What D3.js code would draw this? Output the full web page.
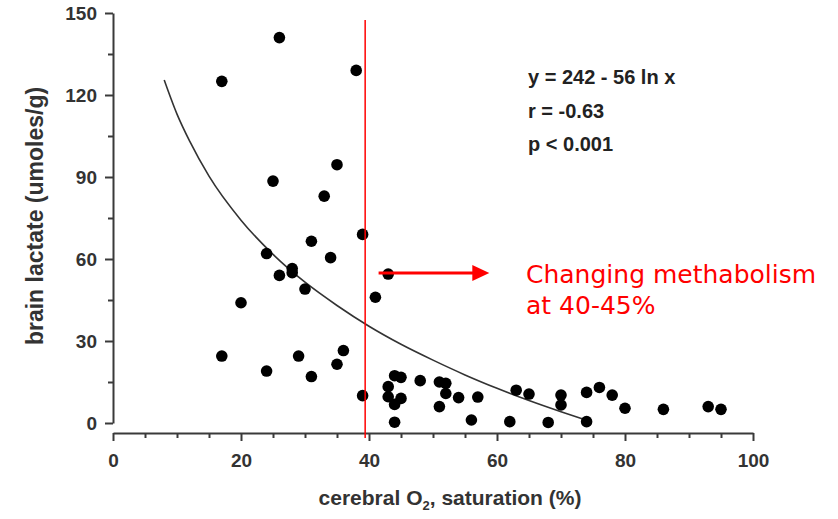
<!doctype html>
<html>
<head>
  <meta charset="utf-8">
  <script src="https://cdnjs.cloudflare.com/ajax/libs/d3/7.8.5/d3.min.js"></script>
  <style>
    body { margin: 0; background: white; }
    .axis path, .axis line { stroke: #3a3a3a; stroke-width: 2px; }
    .axis text { font-family: 'Liberation Sans', Arial, sans-serif; font-weight: bold; font-size: 19px; fill: #333; }
    .title { font-family: 'Liberation Sans', Arial, sans-serif; font-weight: bold; fill: #333; }
    .stats { font-family: 'Liberation Sans', Arial, sans-serif; font-weight: bold; font-size: 20px; fill: #222; }
    .note { font-family: 'DejaVu Sans', sans-serif; font-size: 25px; fill: #ff0000; }
  </style>
</head>
<body>
  <script>
    // scatter: cerebral O2 saturation (%) vs brain lactate (umoles/g)
    const saturation = [26, 17, 38, 35, 25, 33, 39, 31, 24, 34, 28, 28, 26, 30, 41, 20, 43,
      17, 29, 36, 35, 24, 31, 39, 44, 45, 43, 43, 44, 45, 44, 48, 51, 52, 52, 51, 54, 57,
      56, 62, 63, 65, 68, 70, 70, 74, 74, 76, 78, 80, 86, 93, 95];
    const lactate = [141, 125, 129, 94.5, 88.5, 83, 69, 66.5, 62, 60.5, 56.5, 55, 54, 49, 46, 44, 54.5,
      24.5, 24.5, 26.5, 21.5, 19, 17, 10, 17.3, 16.7, 13.3, 9.6, 6.8, 9, 0.3, 15.5, 15, 14.5, 10.8, 6, 9.3, 9.5,
      1.1, 0.5, 12, 10.6, 0.2, 10.2, 6.6, 0.5, 11.2, 13, 10.2, 5.4, 5, 6, 5];

    // fitted curve
    const fitX = [8, 10, 12, 15, 20, 25, 30, 35, 40, 45, 50, 55, 60, 65, 70, 74];
    const fitY = [125.5, 113, 103, 90.3, 74.2, 61.7, 51.5, 43, 35.4, 28.8, 23, 17.6, 12.7, 8.2, 4.1, 1];

    const xMajor = [0, 20, 40, 60, 80, 100];
    const xMinor = [5, 10, 15, 25, 30, 35, 45, 50, 55, 65, 70, 75, 85, 90, 95];
    const yMajor = [0, 30, 60, 90, 120, 150];
    const yMinor = [15, 45, 75, 105, 135];

    const statLines = ['y = 242 - 56 ln x', 'r = -0.63', 'p < 0.001'];
    const noteLines = ['Changing methabolism', 'at 40-45%'];
    const markerX = 39.4;
    const arrowFrom = 41.5, arrowTo = 58.8, arrowY = 54.9;

    const width = 838, height = 519;
    const svg = d3.select('body').append('svg')
      .attr('width', width)
      .attr('height', height);

    const x = d3.scaleLinear().domain([0, 100]).range([113, 753]);
    const y = d3.scaleLinear().domain([0, 150]).range([423, 13]);
    const xAxisY = 433;

    // y axis
    svg.append('g').attr('class', 'axis')
      .attr('transform', `translate(${x(0)},0)`)
      .call(d3.axisLeft(y).tickValues(yMajor).tickSize(8).tickSizeOuter(0).tickPadding(8));
    svg.append('g').attr('class', 'axis')
      .attr('transform', `translate(${x(0)},0)`)
      .call(d3.axisLeft(y).tickValues(yMinor).tickSize(5).tickSizeOuter(0).tickFormat(''))
      .select('.domain').remove();

    // x axis
    svg.append('g').attr('class', 'axis')
      .attr('transform', `translate(0,${xAxisY})`)
      .call(d3.axisBottom(x).tickValues(xMajor).tickSize(8).tickSizeOuter(0).tickPadding(13));
    svg.append('g').attr('class', 'axis')
      .attr('transform', `translate(0,${xAxisY})`)
      .call(d3.axisBottom(x).tickValues(xMinor).tickSize(5).tickSizeOuter(0).tickFormat(''))
      .select('.domain').remove();

    // titles
    svg.append('text').attr('class', 'title')
      .attr('transform', 'translate(43,216) rotate(-90)')
      .attr('text-anchor', 'middle')
      .style('font-size', '23px')
      .text('brain lactate (umoles/g)');

    const xt = svg.append('text').attr('class', 'title')
      .attr('x', 450).attr('y', 505)
      .attr('text-anchor', 'middle')
      .style('font-size', '21px');
    xt.append('tspan').text('cerebral O');
    xt.append('tspan').attr('dy', 5).style('font-size', '13px').text('2');
    xt.append('tspan').attr('dy', -5).text(', saturation (%)');

    // fit curve
    const line = d3.line()
      .x((d, i) => x(fitX[i]))
      .y(d => y(d))
      .curve(d3.curveMonotoneX);
    svg.append('path')
      .attr('d', line(fitY))
      .attr('fill', 'none')
      .attr('stroke', '#333')
      .attr('stroke-width', 1.6);

    // points
    svg.append('g').selectAll('circle')
      .data(saturation)
      .join('circle')
      .attr('cx', d => x(d))
      .attr('cy', (d, i) => y(lactate[i]))
      .attr('r', 5.8)
      .attr('fill', '#000');

    // stats
    svg.append('g').selectAll('text')
      .data(statLines)
      .join('text')
      .attr('class', 'stats')
      .attr('x', 528)
      .attr('y', (d, i) => 84 + i * 33.5)
      .text(d => d);

    // red marker line
    svg.append('line')
      .attr('x1', x(markerX)).attr('x2', x(markerX))
      .attr('y1', 20).attr('y2', 438)
      .attr('stroke', '#ff0000')
      .attr('stroke-width', 1.5);

    // arrow
    const ax1 = x(arrowFrom), ax2 = x(arrowTo), ay = y(arrowY);
    svg.append('line')
      .attr('x1', ax1).attr('x2', ax2 - 14)
      .attr('y1', ay).attr('y2', ay)
      .attr('stroke', '#ff0000')
      .attr('stroke-width', 3);
    svg.append('path')
      .attr('d', `M${ax2},${ay} L${ax2 - 17},${ay - 8} L${ax2 - 17},${ay + 8} Z`)
      .attr('fill', '#ff0000');

    svg.append('g').selectAll('text')
      .data(noteLines)
      .join('text')
      .attr('class', 'note')
      .attr('x', 526)
      .attr('y', (d, i) => 283 + i * 31)
      .text(d => d);
  </script>
</body>
</html>
